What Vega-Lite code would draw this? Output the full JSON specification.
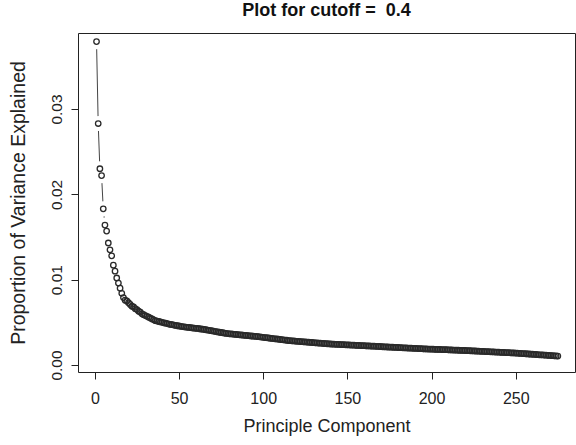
{
  "$schema": "https://vega.github.io/schema/vega-lite/v6.json",
  "autosize": "none",
  "width": 497,
  "height": 339,
  "padding": {"left": 78, "top": 33, "right": 1, "bottom": 73},
  "background": "white",
  "config": {
    "font": "Liberation Sans",
    "view": {"stroke": "#222", "strokeWidth": 1},
    "axis": {"grid": false, "domain": false, "tickColor": "#222", "tickSize": 7, "labelColor": "#222", "titleColor": "#222", "labelFont": "Liberation Sans", "titleFont": "Liberation Sans", "titleFontWeight": "normal"},
    "title": {"font": "Liberation Sans", "fontSize": 18, "fontWeight": "bold", "color": "#111", "anchor": "middle", "baseline": "alphabetic", "offset": 13}
  },
  "title": "Plot for cutoff = \u00a00.4",
  "datasets": {
    "pve": [
      {"pc":1,"pve":0.0379},{"pc":2,"pve":0.0283},{"pc":3,"pve":0.0230},{"pc":4,"pve":0.0222},{"pc":5,"pve":0.0183},
      {"pc":6,"pve":0.0164},{"pc":7,"pve":0.0157},{"pc":8,"pve":0.0143},{"pc":9,"pve":0.0135},{"pc":10,"pve":0.0128},
      {"pc":11,"pve":0.0117},{"pc":12,"pve":0.0110},{"pc":13,"pve":0.0102},{"pc":14,"pve":0.0096},{"pc":15,"pve":0.0090},
      {"pc":16,"pve":0.0084},{"pc":17,"pve":0.0079},{"pc":18,"pve":0.0076},{"pc":19,"pve":0.0075},{"pc":20,"pve":0.0073},
      {"pc":21,"pve":0.0071},{"pc":22,"pve":0.0069},{"pc":23,"pve":0.0068},{"pc":24,"pve":0.0066},{"pc":25,"pve":0.0065},
      {"pc":26,"pve":0.0063},{"pc":27,"pve":0.0062},{"pc":28,"pve":0.0060},{"pc":29,"pve":0.0059},{"pc":30,"pve":0.0058},
      {"pc":31,"pve":0.0057},{"pc":32,"pve":0.0056},{"pc":33,"pve":0.0055},{"pc":34,"pve":0.0054},{"pc":35,"pve":0.0053},
      {"pc":36,"pve":0.0052},{"pc":37,"pve":0.00515},{"pc":38,"pve":0.0051},{"pc":39,"pve":0.00505},{"pc":40,"pve":0.0050},
      {"pc":41,"pve":0.00495},{"pc":42,"pve":0.0049},{"pc":43,"pve":0.00485},{"pc":44,"pve":0.0048},{"pc":45,"pve":0.00476},
      {"pc":46,"pve":0.00472},{"pc":47,"pve":0.00468},{"pc":48,"pve":0.00464},{"pc":49,"pve":0.0046},{"pc":50,"pve":0.00457},
      {"pc":51,"pve":0.00454},{"pc":52,"pve":0.0045},{"pc":53,"pve":0.00448},{"pc":54,"pve":0.00445},{"pc":55,"pve":0.00442},
      {"pc":56,"pve":0.0044},{"pc":57,"pve":0.00437},{"pc":58,"pve":0.00434},{"pc":59,"pve":0.00432},{"pc":60,"pve":0.0043},
      {"pc":61,"pve":0.00428},{"pc":62,"pve":0.00425},{"pc":63,"pve":0.00422},{"pc":64,"pve":0.0042},{"pc":65,"pve":0.00416},
      {"pc":66,"pve":0.00413},{"pc":67,"pve":0.0041},{"pc":68,"pve":0.00406},{"pc":69,"pve":0.00402},{"pc":70,"pve":0.00399},
      {"pc":71,"pve":0.00395},{"pc":72,"pve":0.00392},{"pc":73,"pve":0.00388},{"pc":74,"pve":0.00384},{"pc":75,"pve":0.00381},
      {"pc":76,"pve":0.00378},{"pc":77,"pve":0.00374},{"pc":78,"pve":0.0037},{"pc":79,"pve":0.00368},{"pc":80,"pve":0.00366},
      {"pc":81,"pve":0.00364},{"pc":82,"pve":0.00362},{"pc":83,"pve":0.0036},{"pc":84,"pve":0.00358},{"pc":85,"pve":0.00356},
      {"pc":86,"pve":0.00354},{"pc":87,"pve":0.00352},{"pc":88,"pve":0.0035},{"pc":89,"pve":0.00348},{"pc":90,"pve":0.00346},
      {"pc":91,"pve":0.00344},{"pc":92,"pve":0.00342},{"pc":93,"pve":0.0034},{"pc":94,"pve":0.00338},{"pc":95,"pve":0.00336},
      {"pc":96,"pve":0.00334},{"pc":97,"pve":0.00332},{"pc":98,"pve":0.0033},{"pc":99,"pve":0.00327},{"pc":100,"pve":0.00325},
      {"pc":101,"pve":0.00322},{"pc":102,"pve":0.0032},{"pc":103,"pve":0.00317},{"pc":104,"pve":0.00315},{"pc":105,"pve":0.00312},
      {"pc":106,"pve":0.0031},{"pc":107,"pve":0.00307},{"pc":108,"pve":0.00305},{"pc":109,"pve":0.00302},{"pc":110,"pve":0.003},
      {"pc":111,"pve":0.00297},{"pc":112,"pve":0.00295},{"pc":113,"pve":0.00292},{"pc":114,"pve":0.0029},{"pc":115,"pve":0.00287},
      {"pc":116,"pve":0.00285},{"pc":117,"pve":0.00283},{"pc":118,"pve":0.00282},{"pc":119,"pve":0.0028},{"pc":120,"pve":0.00278},
      {"pc":121,"pve":0.00277},{"pc":122,"pve":0.00275},{"pc":123,"pve":0.00273},{"pc":124,"pve":0.00272},{"pc":125,"pve":0.0027},
      {"pc":126,"pve":0.00269},{"pc":127,"pve":0.00267},{"pc":128,"pve":0.00265},{"pc":129,"pve":0.00264},{"pc":130,"pve":0.00262},
      {"pc":131,"pve":0.0026},{"pc":132,"pve":0.00259},{"pc":133,"pve":0.00257},{"pc":134,"pve":0.00256},{"pc":135,"pve":0.00254},
      {"pc":136,"pve":0.00252},{"pc":137,"pve":0.00251},{"pc":138,"pve":0.00249},{"pc":139,"pve":0.00248},{"pc":140,"pve":0.00246},
      {"pc":141,"pve":0.00245},{"pc":142,"pve":0.00244},{"pc":143,"pve":0.00243},{"pc":144,"pve":0.00242},{"pc":145,"pve":0.00241},
      {"pc":146,"pve":0.0024},{"pc":147,"pve":0.00239},{"pc":148,"pve":0.00238},{"pc":149,"pve":0.00237},{"pc":150,"pve":0.00236},
      {"pc":151,"pve":0.00235},{"pc":152,"pve":0.00234},{"pc":153,"pve":0.00233},{"pc":154,"pve":0.00232},{"pc":155,"pve":0.00231},
      {"pc":156,"pve":0.0023},{"pc":157,"pve":0.00229},{"pc":158,"pve":0.00228},{"pc":159,"pve":0.00227},{"pc":160,"pve":0.00226},
      {"pc":161,"pve":0.00225},{"pc":162,"pve":0.00224},{"pc":163,"pve":0.00223},{"pc":164,"pve":0.00222},{"pc":165,"pve":0.00221},
      {"pc":166,"pve":0.0022},{"pc":167,"pve":0.00219},{"pc":168,"pve":0.00218},{"pc":169,"pve":0.00217},{"pc":170,"pve":0.00215},
      {"pc":171,"pve":0.00214},{"pc":172,"pve":0.00213},{"pc":173,"pve":0.00212},{"pc":174,"pve":0.00211},{"pc":175,"pve":0.0021},
      {"pc":176,"pve":0.00209},{"pc":177,"pve":0.00208},{"pc":178,"pve":0.00207},{"pc":179,"pve":0.00206},{"pc":180,"pve":0.00205},
      {"pc":181,"pve":0.00204},{"pc":182,"pve":0.00203},{"pc":183,"pve":0.00202},{"pc":184,"pve":0.00201},{"pc":185,"pve":0.002},
      {"pc":186,"pve":0.00199},{"pc":187,"pve":0.00198},{"pc":188,"pve":0.00197},{"pc":189,"pve":0.00196},{"pc":190,"pve":0.00195},
      {"pc":191,"pve":0.00194},{"pc":192,"pve":0.00193},{"pc":193,"pve":0.00192},{"pc":194,"pve":0.00191},{"pc":195,"pve":0.0019},
      {"pc":196,"pve":0.00189},{"pc":197,"pve":0.00188},{"pc":198,"pve":0.00187},{"pc":199,"pve":0.00187},{"pc":200,"pve":0.00186},
      {"pc":201,"pve":0.00185},{"pc":202,"pve":0.00184},{"pc":203,"pve":0.00183},{"pc":204,"pve":0.00183},{"pc":205,"pve":0.00182},
      {"pc":206,"pve":0.00181},{"pc":207,"pve":0.0018},{"pc":208,"pve":0.00179},{"pc":209,"pve":0.00179},{"pc":210,"pve":0.00178},
      {"pc":211,"pve":0.00177},{"pc":212,"pve":0.00176},{"pc":213,"pve":0.00175},{"pc":214,"pve":0.00175},{"pc":215,"pve":0.00174},
      {"pc":216,"pve":0.00173},{"pc":217,"pve":0.00172},{"pc":218,"pve":0.00171},{"pc":219,"pve":0.00171},{"pc":220,"pve":0.0017},
      {"pc":221,"pve":0.00169},{"pc":222,"pve":0.00168},{"pc":223,"pve":0.00167},{"pc":224,"pve":0.00166},{"pc":225,"pve":0.00165},
      {"pc":226,"pve":0.00164},{"pc":227,"pve":0.00163},{"pc":228,"pve":0.00162},{"pc":229,"pve":0.00161},{"pc":230,"pve":0.0016},
      {"pc":231,"pve":0.00159},{"pc":232,"pve":0.00158},{"pc":233,"pve":0.00157},{"pc":234,"pve":0.00156},{"pc":235,"pve":0.00155},
      {"pc":236,"pve":0.00154},{"pc":237,"pve":0.00153},{"pc":238,"pve":0.00152},{"pc":239,"pve":0.00151},{"pc":240,"pve":0.0015},
      {"pc":241,"pve":0.00149},{"pc":242,"pve":0.00148},{"pc":243,"pve":0.00147},{"pc":244,"pve":0.00146},{"pc":245,"pve":0.00145},
      {"pc":246,"pve":0.00144},{"pc":247,"pve":0.00143},{"pc":248,"pve":0.00142},{"pc":249,"pve":0.00141},{"pc":250,"pve":0.0014},
      {"pc":251,"pve":0.00139},{"pc":252,"pve":0.00137},{"pc":253,"pve":0.00136},{"pc":254,"pve":0.00134},{"pc":255,"pve":0.00133},
      {"pc":256,"pve":0.00132},{"pc":257,"pve":0.0013},{"pc":258,"pve":0.00129},{"pc":259,"pve":0.00127},{"pc":260,"pve":0.00126},
      {"pc":261,"pve":0.00125},{"pc":262,"pve":0.00123},{"pc":263,"pve":0.00122},{"pc":264,"pve":0.0012},{"pc":265,"pve":0.00119},
      {"pc":266,"pve":0.00118},{"pc":267,"pve":0.00116},{"pc":268,"pve":0.00115},{"pc":269,"pve":0.00113},{"pc":270,"pve":0.00112},
      {"pc":271,"pve":0.00111},{"pc":272,"pve":0.00109},{"pc":273,"pve":0.00108},{"pc":274,"pve":0.00106},{"pc":275,"pve":0.00105}
    ]
  },
  "data": {"name": "pve"},
  "encoding": {
    "x": {
      "field": "pc", "type": "quantitative",
      "scale": {"domain": [-10, 285.2], "nice": false, "zero": false},
      "axis": {"title": "Principle Component", "values": [0, 50, 100, 150, 200, 250], "labelFontSize": 16, "labelPadding": 11, "titleFontSize": 18, "titleBaseline": "alphabetic", "titleY": 59}
    },
    "y": {
      "field": "pve", "type": "quantitative",
      "scale": {"domain": [-0.00082, 0.03891], "nice": false, "zero": false},
      "axis": {"title": "Proportion of Variance Explained", "values": [0, 0.01, 0.02, 0.03], "format": ".2f", "labelAngle": -90, "labelAlign": "center", "labelBaseline": "alphabetic", "labelPadding": 10, "labelFontSize": 15.5, "titleFontSize": 19.5, "titleAngle": -90, "titleBaseline": "alphabetic", "titleX": -54}
    }
  },
  "layer": [
    {"mark": {"type": "line", "color": "#444", "strokeWidth": 1}},
    {"mark": {"type": "point", "shape": "circle", "filled": true, "color": "white", "opacity": 1, "size": 230}},
    {"mark": {"type": "point", "shape": "circle", "filled": false, "color": "#2a2a2a", "opacity": 1, "strokeWidth": 1.3, "size": 30}}
  ]
}
